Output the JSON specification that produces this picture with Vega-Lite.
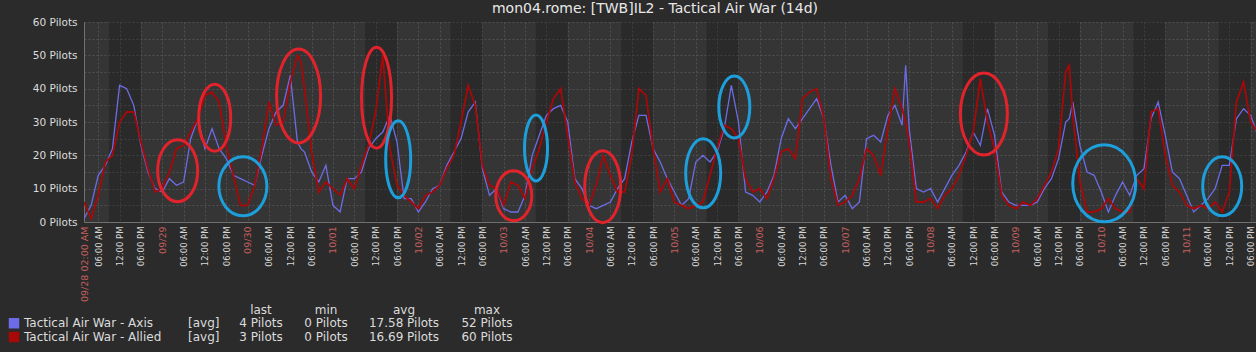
{
 "$schema": "https://vega.github.io/schema/vega-lite/v6.json",
 "width": 1172,
 "height": 200,
 "autosize": {"type": "none"},
 "padding": {"left": 84, "top": 22, "right": 0, "bottom": 130},
 "background": "#2b2b2b",
 "config": {"view": {"fill": "#353535", "stroke": null}, "font": "DejaVu Sans"},
 "title": {"text": "mon04.rome: [TWB]IL2 - Tactical Air War (14d)", "fontSize": 14, "fontWeight": "normal", "color": "#e8e8e8", "anchor": "middle", "frame": "group", "dx": -15, "offset": 1, "font": "DejaVu Sans"},
 "datasets": {
  "series": [
   {"t":"2018-09-28T02:00","Axis":1,"Allied":6},
   {"t":"2018-09-28T04:00","Axis":5,"Allied":1},
   {"t":"2018-09-28T06:00","Axis":14,"Allied":8},
   {"t":"2018-09-28T08:00","Axis":17,"Allied":18},
   {"t":"2018-09-28T10:00","Axis":22,"Allied":20},
   {"t":"2018-09-28T12:00","Axis":41,"Allied":30},
   {"t":"2018-09-28T14:00","Axis":40,"Allied":33},
   {"t":"2018-09-28T16:00","Axis":35,"Allied":33},
   {"t":"2018-09-28T18:00","Axis":23,"Allied":24},
   {"t":"2018-09-28T20:00","Axis":15,"Allied":16},
   {"t":"2018-09-28T22:00","Axis":10,"Allied":9},
   {"t":"2018-09-29T00:00","Axis":9,"Allied":10},
   {"t":"2018-09-29T02:00","Axis":13,"Allied":15},
   {"t":"2018-09-29T04:00","Axis":11,"Allied":22},
   {"t":"2018-09-29T06:00","Axis":12,"Allied":23},
   {"t":"2018-09-29T08:00","Axis":25,"Allied":27},
   {"t":"2018-09-29T10:00","Axis":31,"Allied":31},
   {"t":"2018-09-29T12:00","Axis":22,"Allied":38},
   {"t":"2018-09-29T14:00","Axis":28,"Allied":39},
   {"t":"2018-09-29T16:00","Axis":22,"Allied":36},
   {"t":"2018-09-29T18:00","Axis":19,"Allied":23},
   {"t":"2018-09-29T20:00","Axis":14,"Allied":14},
   {"t":"2018-09-29T22:00","Axis":13,"Allied":5},
   {"t":"2018-09-30T00:00","Axis":12,"Allied":5},
   {"t":"2018-09-30T02:00","Axis":11,"Allied":11},
   {"t":"2018-09-30T04:00","Axis":20,"Allied":22},
   {"t":"2018-09-30T06:00","Axis":28,"Allied":36},
   {"t":"2018-09-30T08:00","Axis":33,"Allied":29},
   {"t":"2018-09-30T10:00","Axis":35,"Allied":30},
   {"t":"2018-09-30T12:00","Axis":44,"Allied":42},
   {"t":"2018-09-30T14:00","Axis":24,"Allied":50},
   {"t":"2018-09-30T15:00","Axis":22,"Allied":48},
   {"t":"2018-09-30T16:00","Axis":21,"Allied":40},
   {"t":"2018-09-30T18:00","Axis":15,"Allied":21},
   {"t":"2018-09-30T20:00","Axis":12,"Allied":9},
   {"t":"2018-09-30T22:00","Axis":17,"Allied":12},
   {"t":"2018-10-01T00:00","Axis":5,"Allied":10},
   {"t":"2018-10-01T02:00","Axis":3,"Allied":8},
   {"t":"2018-10-01T04:00","Axis":13,"Allied":13},
   {"t":"2018-10-01T06:00","Axis":13,"Allied":10},
   {"t":"2018-10-01T08:00","Axis":15,"Allied":17},
   {"t":"2018-10-01T10:00","Axis":22,"Allied":23},
   {"t":"2018-10-01T12:00","Axis":25,"Allied":33},
   {"t":"2018-10-01T14:00","Axis":27,"Allied":50},
   {"t":"2018-10-01T16:00","Axis":32,"Allied":22},
   {"t":"2018-10-01T18:00","Axis":24,"Allied":11},
   {"t":"2018-10-01T20:00","Axis":7,"Allied":8},
   {"t":"2018-10-01T22:00","Axis":7,"Allied":6},
   {"t":"2018-10-02T00:00","Axis":3,"Allied":4},
   {"t":"2018-10-02T02:00","Axis":6,"Allied":8},
   {"t":"2018-10-02T04:00","Axis":10,"Allied":9},
   {"t":"2018-10-02T06:00","Axis":11,"Allied":11},
   {"t":"2018-10-02T08:00","Axis":17,"Allied":16},
   {"t":"2018-10-02T10:00","Axis":21,"Allied":20},
   {"t":"2018-10-02T12:00","Axis":25,"Allied":30},
   {"t":"2018-10-02T14:00","Axis":33,"Allied":41},
   {"t":"2018-10-02T16:00","Axis":36,"Allied":35},
   {"t":"2018-10-02T18:00","Axis":16,"Allied":17},
   {"t":"2018-10-02T20:00","Axis":8,"Allied":11},
   {"t":"2018-10-02T22:00","Axis":10,"Allied":10},
   {"t":"2018-10-03T00:00","Axis":4,"Allied":5},
   {"t":"2018-10-03T02:00","Axis":3,"Allied":12},
   {"t":"2018-10-03T04:00","Axis":3,"Allied":11},
   {"t":"2018-10-03T06:00","Axis":8,"Allied":7},
   {"t":"2018-10-03T08:00","Axis":20,"Allied":16},
   {"t":"2018-10-03T10:00","Axis":26,"Allied":22},
   {"t":"2018-10-03T12:00","Axis":32,"Allied":30},
   {"t":"2018-10-03T14:00","Axis":34,"Allied":37},
   {"t":"2018-10-03T16:00","Axis":35,"Allied":40},
   {"t":"2018-10-03T18:00","Axis":30,"Allied":26},
   {"t":"2018-10-03T20:00","Axis":13,"Allied":12},
   {"t":"2018-10-03T22:00","Axis":10,"Allied":7},
   {"t":"2018-10-04T00:00","Axis":5,"Allied":5},
   {"t":"2018-10-04T02:00","Axis":4,"Allied":11},
   {"t":"2018-10-04T04:00","Axis":5,"Allied":20},
   {"t":"2018-10-04T06:00","Axis":6,"Allied":14},
   {"t":"2018-10-04T08:00","Axis":10,"Allied":9},
   {"t":"2018-10-04T10:00","Axis":13,"Allied":9},
   {"t":"2018-10-04T12:00","Axis":24,"Allied":20},
   {"t":"2018-10-04T14:00","Axis":32,"Allied":40},
   {"t":"2018-10-04T16:00","Axis":32,"Allied":38},
   {"t":"2018-10-04T18:00","Axis":22,"Allied":22},
   {"t":"2018-10-04T20:00","Axis":18,"Allied":9},
   {"t":"2018-10-04T22:00","Axis":13,"Allied":13},
   {"t":"2018-10-05T00:00","Axis":9,"Allied":6},
   {"t":"2018-10-05T02:00","Axis":5,"Allied":5},
   {"t":"2018-10-05T04:00","Axis":7,"Allied":4},
   {"t":"2018-10-05T06:00","Axis":18,"Allied":5},
   {"t":"2018-10-05T08:00","Axis":20,"Allied":6},
   {"t":"2018-10-05T10:00","Axis":18,"Allied":14},
   {"t":"2018-10-05T12:00","Axis":21,"Allied":22},
   {"t":"2018-10-05T14:00","Axis":28,"Allied":29},
   {"t":"2018-10-05T16:00","Axis":41,"Allied":28},
   {"t":"2018-10-05T18:00","Axis":30,"Allied":25},
   {"t":"2018-10-05T20:00","Axis":9,"Allied":13},
   {"t":"2018-10-05T22:00","Axis":8,"Allied":9},
   {"t":"2018-10-06T00:00","Axis":6,"Allied":10},
   {"t":"2018-10-06T02:00","Axis":9,"Allied":7},
   {"t":"2018-10-06T04:00","Axis":14,"Allied":13},
   {"t":"2018-10-06T06:00","Axis":25,"Allied":21},
   {"t":"2018-10-06T08:00","Axis":31,"Allied":22},
   {"t":"2018-10-06T10:00","Axis":28,"Allied":19},
   {"t":"2018-10-06T12:00","Axis":31,"Allied":37},
   {"t":"2018-10-06T14:00","Axis":34,"Allied":39},
   {"t":"2018-10-06T16:00","Axis":37,"Allied":40},
   {"t":"2018-10-06T18:00","Axis":31,"Allied":31},
   {"t":"2018-10-06T20:00","Axis":17,"Allied":13},
   {"t":"2018-10-06T22:00","Axis":6,"Allied":5},
   {"t":"2018-10-07T00:00","Axis":8,"Allied":6},
   {"t":"2018-10-07T02:00","Axis":4,"Allied":8},
   {"t":"2018-10-07T04:00","Axis":6,"Allied":13},
   {"t":"2018-10-07T06:00","Axis":25,"Allied":22},
   {"t":"2018-10-07T08:00","Axis":26,"Allied":20},
   {"t":"2018-10-07T10:00","Axis":24,"Allied":14},
   {"t":"2018-10-07T12:00","Axis":32,"Allied":28},
   {"t":"2018-10-07T14:00","Axis":35,"Allied":40},
   {"t":"2018-10-07T16:00","Axis":29,"Allied":34},
   {"t":"2018-10-07T17:00","Axis":47,"Allied":30},
   {"t":"2018-10-07T18:00","Axis":28,"Allied":24},
   {"t":"2018-10-07T20:00","Axis":10,"Allied":6},
   {"t":"2018-10-07T22:00","Axis":9,"Allied":6},
   {"t":"2018-10-08T00:00","Axis":10,"Allied":7},
   {"t":"2018-10-08T02:00","Axis":6,"Allied":4},
   {"t":"2018-10-08T04:00","Axis":10,"Allied":8},
   {"t":"2018-10-08T06:00","Axis":14,"Allied":10},
   {"t":"2018-10-08T08:00","Axis":17,"Allied":14},
   {"t":"2018-10-08T10:00","Axis":21,"Allied":20},
   {"t":"2018-10-08T12:00","Axis":27,"Allied":27},
   {"t":"2018-10-08T14:00","Axis":23,"Allied":43},
   {"t":"2018-10-08T16:00","Axis":34,"Allied":30},
   {"t":"2018-10-08T18:00","Axis":26,"Allied":22},
   {"t":"2018-10-08T20:00","Axis":9,"Allied":8},
   {"t":"2018-10-08T22:00","Axis":6,"Allied":5},
   {"t":"2018-10-09T00:00","Axis":5,"Allied":4},
   {"t":"2018-10-09T02:00","Axis":5,"Allied":6},
   {"t":"2018-10-09T04:00","Axis":5,"Allied":5},
   {"t":"2018-10-09T06:00","Axis":6,"Allied":7},
   {"t":"2018-10-09T08:00","Axis":10,"Allied":11},
   {"t":"2018-10-09T10:00","Axis":13,"Allied":15},
   {"t":"2018-10-09T12:00","Axis":19,"Allied":22},
   {"t":"2018-10-09T14:00","Axis":30,"Allied":45},
   {"t":"2018-10-09T15:00","Axis":31,"Allied":47},
   {"t":"2018-10-09T16:00","Axis":36,"Allied":32},
   {"t":"2018-10-09T18:00","Axis":23,"Allied":12},
   {"t":"2018-10-09T20:00","Axis":15,"Allied":3},
   {"t":"2018-10-09T22:00","Axis":14,"Allied":3},
   {"t":"2018-10-10T00:00","Axis":9,"Allied":4},
   {"t":"2018-10-10T02:00","Axis":3,"Allied":7},
   {"t":"2018-10-10T04:00","Axis":8,"Allied":4},
   {"t":"2018-10-10T06:00","Axis":12,"Allied":3},
   {"t":"2018-10-10T08:00","Axis":8,"Allied":3},
   {"t":"2018-10-10T10:00","Axis":14,"Allied":13},
   {"t":"2018-10-10T12:00","Axis":16,"Allied":10},
   {"t":"2018-10-10T14:00","Axis":31,"Allied":33},
   {"t":"2018-10-10T16:00","Axis":36,"Allied":34},
   {"t":"2018-10-10T18:00","Axis":26,"Allied":20},
   {"t":"2018-10-10T20:00","Axis":15,"Allied":11},
   {"t":"2018-10-10T22:00","Axis":13,"Allied":9},
   {"t":"2018-10-11T00:00","Axis":8,"Allied":5},
   {"t":"2018-10-11T02:00","Axis":3,"Allied":4},
   {"t":"2018-10-11T04:00","Axis":5,"Allied":5},
   {"t":"2018-10-11T06:00","Axis":7,"Allied":4},
   {"t":"2018-10-11T08:00","Axis":10,"Allied":6},
   {"t":"2018-10-11T10:00","Axis":17,"Allied":3},
   {"t":"2018-10-11T12:00","Axis":17,"Allied":9},
   {"t":"2018-10-11T14:00","Axis":31,"Allied":36},
   {"t":"2018-10-11T16:00","Axis":34,"Allied":42},
   {"t":"2018-10-11T18:00","Axis":32,"Allied":30},
   {"t":"2018-10-11T20:00","Axis":26,"Allied":27}
  ],
  "bands": [
   {"start":"2018-09-28T09:00","end":"2018-09-28T18:00"},
   {"start":"2018-10-01T09:00","end":"2018-10-01T18:00"},
   {"start":"2018-10-02T09:00","end":"2018-10-02T18:00"},
   {"start":"2018-10-03T09:00","end":"2018-10-03T18:00"},
   {"start":"2018-10-04T09:00","end":"2018-10-04T18:00"},
   {"start":"2018-10-05T09:00","end":"2018-10-05T18:00"},
   {"start":"2018-10-08T09:00","end":"2018-10-08T18:00"},
   {"start":"2018-10-09T09:00","end":"2018-10-09T18:00"},
   {"start":"2018-10-10T09:00","end":"2018-10-10T18:00"},
   {"start":"2018-10-11T09:00","end":"2018-10-11T18:00"}
  ],
  "marks": [
   {"id":"A","t":"2018-09-29T04:20","v":15.4,"leader":"Allied"},
   {"id":"B","t":"2018-09-29T14:45","v":31.3,"leader":"Allied"},
   {"id":"C","t":"2018-09-29T22:40","v":10.7,"leader":"Axis"},
   {"id":"D","t":"2018-09-30T14:20","v":37.8,"leader":"Allied"},
   {"id":"E","t":"2018-10-01T12:15","v":37.3,"leader":"Allied"},
   {"id":"F","t":"2018-10-01T18:20","v":18.8,"leader":"Axis"},
   {"id":"G","t":"2018-10-03T02:50","v":7.9,"leader":"Allied"},
   {"id":"H","t":"2018-10-03T09:05","v":22.2,"leader":"Axis"},
   {"id":"I","t":"2018-10-04T03:50","v":10.6,"leader":"Allied"},
   {"id":"J","t":"2018-10-05T08:05","v":14.6,"leader":"Axis"},
   {"id":"K","t":"2018-10-05T16:50","v":34.5,"leader":"Axis"},
   {"id":"L","t":"2018-10-08T15:00","v":32.4,"leader":"Allied"},
   {"id":"M","t":"2018-10-10T00:50","v":11.6,"leader":"Axis"},
   {"id":"N","t":"2018-10-11T10:00","v":10.7,"leader":"Axis"}
  ],
  "legend": [
   {"kind":"swatch","row":1,"col":0,"series":"Axis"},
   {"kind":"swatch","row":2,"col":0,"series":"Allied"},
   {"kind":"left","row":1,"col":1,"text":"Tactical Air War - Axis"},
   {"kind":"left","row":1,"col":2,"text":"[avg]"},
   {"kind":"left","row":2,"col":1,"text":"Tactical Air War - Allied"},
   {"kind":"left","row":2,"col":2,"text":"[avg]"},
   {"kind":"center","row":0,"col":3,"text":"last"},
   {"kind":"center","row":0,"col":4,"text":"min"},
   {"kind":"center","row":0,"col":5,"text":"avg"},
   {"kind":"center","row":0,"col":6,"text":"max"},
   {"kind":"center","row":1,"col":3,"text":"4 Pilots"},
   {"kind":"center","row":1,"col":4,"text":"0 Pilots"},
   {"kind":"center","row":1,"col":5,"text":"17.58 Pilots"},
   {"kind":"center","row":1,"col":6,"text":"52 Pilots"},
   {"kind":"center","row":2,"col":3,"text":"3 Pilots"},
   {"kind":"center","row":2,"col":4,"text":"0 Pilots"},
   {"kind":"center","row":2,"col":5,"text":"16.69 Pilots"},
   {"kind":"center","row":2,"col":6,"text":"60 Pilots"}
  ]
 },
 "layer": [
  {
   "layer": [
    {
     "data": {"name": "bands"},
     "mark": {"type": "rect", "fill": "#000000", "opacity": 0.2},
     "encoding": {
      "x": {"field": "start", "type": "temporal", "title": null,
       "scale": {"domain": [{"year":2018,"month":9,"date":28,"hours":2},{"year":2018,"month":10,"date":11,"hours":19,"minutes":30}]},
       "axis": {
        "values": [
         {"year":2018,"month":9,"date":28,"hours":2},
         {"year":2018,"month":9,"date":28,"hours":6},{"year":2018,"month":9,"date":28,"hours":12},{"year":2018,"month":9,"date":28,"hours":18},
         {"year":2018,"month":9,"date":29,"hours":0},{"year":2018,"month":9,"date":29,"hours":6},{"year":2018,"month":9,"date":29,"hours":12},{"year":2018,"month":9,"date":29,"hours":18},
         {"year":2018,"month":9,"date":30,"hours":0},{"year":2018,"month":9,"date":30,"hours":6},{"year":2018,"month":9,"date":30,"hours":12},{"year":2018,"month":9,"date":30,"hours":18},
         {"year":2018,"month":10,"date":1,"hours":0},{"year":2018,"month":10,"date":1,"hours":6},{"year":2018,"month":10,"date":1,"hours":12},{"year":2018,"month":10,"date":1,"hours":18},
         {"year":2018,"month":10,"date":2,"hours":0},{"year":2018,"month":10,"date":2,"hours":6},{"year":2018,"month":10,"date":2,"hours":12},{"year":2018,"month":10,"date":2,"hours":18},
         {"year":2018,"month":10,"date":3,"hours":0},{"year":2018,"month":10,"date":3,"hours":6},{"year":2018,"month":10,"date":3,"hours":12},{"year":2018,"month":10,"date":3,"hours":18},
         {"year":2018,"month":10,"date":4,"hours":0},{"year":2018,"month":10,"date":4,"hours":6},{"year":2018,"month":10,"date":4,"hours":12},{"year":2018,"month":10,"date":4,"hours":18},
         {"year":2018,"month":10,"date":5,"hours":0},{"year":2018,"month":10,"date":5,"hours":6},{"year":2018,"month":10,"date":5,"hours":12},{"year":2018,"month":10,"date":5,"hours":18},
         {"year":2018,"month":10,"date":6,"hours":0},{"year":2018,"month":10,"date":6,"hours":6},{"year":2018,"month":10,"date":6,"hours":12},{"year":2018,"month":10,"date":6,"hours":18},
         {"year":2018,"month":10,"date":7,"hours":0},{"year":2018,"month":10,"date":7,"hours":6},{"year":2018,"month":10,"date":7,"hours":12},{"year":2018,"month":10,"date":7,"hours":18},
         {"year":2018,"month":10,"date":8,"hours":0},{"year":2018,"month":10,"date":8,"hours":6},{"year":2018,"month":10,"date":8,"hours":12},{"year":2018,"month":10,"date":8,"hours":18},
         {"year":2018,"month":10,"date":9,"hours":0},{"year":2018,"month":10,"date":9,"hours":6},{"year":2018,"month":10,"date":9,"hours":12},{"year":2018,"month":10,"date":9,"hours":18},
         {"year":2018,"month":10,"date":10,"hours":0},{"year":2018,"month":10,"date":10,"hours":6},{"year":2018,"month":10,"date":10,"hours":12},{"year":2018,"month":10,"date":10,"hours":18},
         {"year":2018,"month":10,"date":11,"hours":0},{"year":2018,"month":10,"date":11,"hours":6},{"year":2018,"month":10,"date":11,"hours":12},{"year":2018,"month":10,"date":11,"hours":18}
        ],
        "tickCount": 1000,
        "labelExpr": "hours(datum.value) == 2 ? '09/28 02:00 AM' : (hours(datum.value) == 0 ? timeFormat(datum.value, '%m/%d') : timeFormat(datum.value, '%I:%M %p'))",
        "labelAngle": -90,
        "labelAlign": "right",
        "labelBaseline": "middle",
        "labelPadding": 4,
        "labelOverlap": false,
        "labelBound": false,
        "labelFlush": false,
        "labelFont": "DejaVu Sans",
        "labelColor": {"condition": {"test": "hours(datum.value) == 0 || hours(datum.value) == 2", "value": "#c45f5f"}, "value": "#d8d8d8"},
        "labelFontSize": {"condition": {"test": "hours(datum.value) == 0 || hours(datum.value) == 2", "value": 9.5}, "value": 8.5},
        "ticks": false,
        "grid": true,
        "gridColor": "#505050",
        "gridDash": [2, 2],
        "domainColor": "#707070",
        "title": null
       }
      },
      "x2": {"field": "end"}
     }
    },
    {
     "data": {"name": "series"},
     "transform": [{"fold": ["Axis", "Allied"], "as": ["series", "v"]}, {"filter": "datum.series == 'Axis'"}],
     "mark": {"type": "line", "clip": true, "strokeWidth": 1.3},
     "encoding": {
      "x": {"field": "t", "type": "temporal", "title": null},
      "y": {"field": "v", "type": "quantitative", "title": null,
       "scale": {"domain": [0, 60], "nice": false},
       "axis": {
        "values": [0,5,10,15,20,25,30,35,40,45,50,55,60],
        "tickCount": 1000,
        "labelExpr": "datum.value % 10 == 0 ? datum.value + ' Pilots' : ''",
        "grid": true,
        "gridColor": "#505050",
        "gridDash": [2, 2],
        "ticks": false,
        "domainColor": "#707070",
        "labelColor": "#dcdcdc",
        "labelFont": "DejaVu Sans",
        "labelFontSize": 10.5,
        "labelPadding": 7,
        "labelOverlap": false,
        "labelBound": false,
        "title": null
       }
      },
      "color": {"field": "series", "type": "nominal", "scale": {"domain": ["Axis", "Allied"], "range": ["#6c6ce6", "#a80808"]}, "legend": null}
     }
    },
    {
     "data": {"name": "series"},
     "transform": [{"fold": ["Axis", "Allied"], "as": ["series", "v"]}, {"filter": "datum.series == 'Allied'"}],
     "mark": {"type": "line", "clip": true, "strokeWidth": 1.8},
     "encoding": {
      "x": {"field": "t", "type": "temporal", "title": null},
      "y": {"field": "v", "type": "quantitative", "title": null},
      "color": {"field": "series", "type": "nominal", "legend": null}
     }
    },
    {
     "data": {"name": "marks"},
     "mark": {"type": "point", "filled": false, "strokeWidth": 3, "size": 4, "opacity": 1},
     "encoding": {
      "x": {"field": "t", "type": "temporal", "title": null},
      "y": {"field": "v", "type": "quantitative", "title": null},
      "shape": {"field": "id", "type": "nominal", "legend": null,
       "scale": {
        "domain": ["A","B","C","D","E","F","G","H","I","J","K","L","M","N"],
        "range": [
         "M 20 0 C 20 17.12 11.05 31 0 31 C -11.05 31 -20 17.12 -20 0 C -20 -17.12 -11.05 -31 0 -31 C 11.05 -31 20 -17.12 20 0 Z",
         "M 16 0 C 16 18.5 8.84 33.5 0 33.5 C -8.84 33.5 -16 18.5 -16 0 C -16 -18.5 -8.84 -33.5 0 -33.5 C 8.84 -33.5 16 -18.5 16 0 Z",
         "M 24 0 C 24 16.29 13.26 29.5 0 29.5 C -13.26 29.5 -24 16.29 -24 0 C -24 -16.29 -13.26 -29.5 0 -29.5 C 13.26 -29.5 24 -16.29 24 0 Z",
         "M 22 0 C 22 25.96 12.15 47 0 47 C -12.15 47 -22 25.96 -22 0 C -22 -25.96 -12.15 -47 0 -47 C 12.15 -47 22 -25.96 22 0 Z",
         "M 15 0 C 15 27.89 8.28 50.5 0 50.5 C -8.28 50.5 -15 27.89 -15 0 C -15 -27.89 -8.28 -50.5 0 -50.5 C 8.28 -50.5 15 -27.89 15 0 Z",
         "M 12.5 0 C 12.5 21.26 6.9 38.5 0 38.5 C -6.9 38.5 -12.5 21.26 -12.5 0 C -12.5 -21.26 -6.9 -38.5 0 -38.5 C 6.9 -38.5 12.5 -21.26 12.5 0 Z",
         "M 18 0 C 18 13.81 9.94 25 0 25 C -9.94 25 -18 13.81 -18 0 C -18 -13.81 -9.94 -25 0 -25 C 9.94 -25 18 -13.81 18 0 Z",
         "M 11.5 0 C 11.5 18.23 6.35 33 0 33 C -6.35 33 -11.5 18.23 -11.5 0 C -11.5 -18.23 -6.35 -33 0 -33 C 6.35 -33 11.5 -18.23 11.5 0 Z",
         "M 18 0 C 18 19.88 9.94 36 0 36 C -9.94 36 -18 19.88 -18 0 C -18 -19.88 -9.94 -36 0 -36 C 9.94 -36 18 -19.88 18 0 Z",
         "M 17.5 0 C 17.5 19.05 9.67 34.5 0 34.5 C -9.67 34.5 -17.5 19.05 -17.5 0 C -17.5 -19.05 -9.67 -34.5 0 -34.5 C 9.67 -34.5 17.5 -19.05 17.5 0 Z",
         "M 15.5 0 C 15.5 17.12 8.56 31 0 31 C -8.56 31 -15.5 17.12 -15.5 0 C -15.5 -17.12 -8.56 -31 0 -31 C 8.56 -31 15.5 -17.12 15.5 0 Z",
         "M 23.5 0 C 23.5 22.64 12.98 41 0 41 C -12.98 41 -23.5 22.64 -23.5 0 C -23.5 -22.64 -12.98 -41 0 -41 C 12.98 -41 23.5 -22.64 23.5 0 Z",
         "M 31.5 0 C 31.5 21.26 17.4 38.5 0 38.5 C -17.4 38.5 -31.5 21.26 -31.5 0 C -31.5 -21.26 -17.4 -38.5 0 -38.5 C 17.4 -38.5 31.5 -21.26 31.5 0 Z",
         "M 19.5 0 C 19.5 16.29 10.77 29.5 0 29.5 C -10.77 29.5 -19.5 16.29 -19.5 0 C -19.5 -16.29 -10.77 -29.5 0 -29.5 C 10.77 -29.5 19.5 -16.29 19.5 0 Z"
        ]
       }
      },
      "stroke": {"field": "leader", "type": "nominal", "legend": null, "scale": {"domain": ["Allied", "Axis"], "range": ["#e3232b", "#1d9fdc"]}}
     }
    }
   ]
  },
  {
   "data": {"name": "legend"},
   "layer": [
    {
     "transform": [{"filter": "datum.kind == 'swatch'"}],
     "mark": {"type": "point", "shape": "square", "filled": true, "size": 110, "opacity": 1},
     "encoding": {
      "x": {"field": "col", "type": "quantitative", "axis": null, "scale": {"domain": [0,1,2,3,4,5,6], "range": [-70,-60,104,177,242,320,403], "zero": false, "nice": false}},
      "y": {"field": "row", "type": "quantitative", "axis": null, "scale": {"domain": [0, 2], "range": [287.5, 315], "zero": false, "nice": false}},
      "color": {"field": "series", "type": "nominal", "legend": null}
     }
    },
    {
     "transform": [{"filter": "datum.kind == 'left'"}],
     "mark": {"type": "text", "align": "left", "baseline": "middle", "fontSize": 12, "font": "DejaVu Sans", "color": "#dcdcdc"},
     "encoding": {
      "x": {"field": "col", "type": "quantitative", "axis": null},
      "y": {"field": "row", "type": "quantitative", "axis": null},
      "text": {"field": "text"}
     }
    },
    {
     "transform": [{"filter": "datum.kind == 'center'"}],
     "mark": {"type": "text", "align": "center", "baseline": "middle", "fontSize": 12, "font": "DejaVu Sans", "color": "#dcdcdc"},
     "encoding": {
      "x": {"field": "col", "type": "quantitative", "axis": null},
      "y": {"field": "row", "type": "quantitative", "axis": null},
      "text": {"field": "text"}
     }
    }
   ]
  }
 ],
 "resolve": {"scale": {"x": "independent", "y": "independent"}}
}
